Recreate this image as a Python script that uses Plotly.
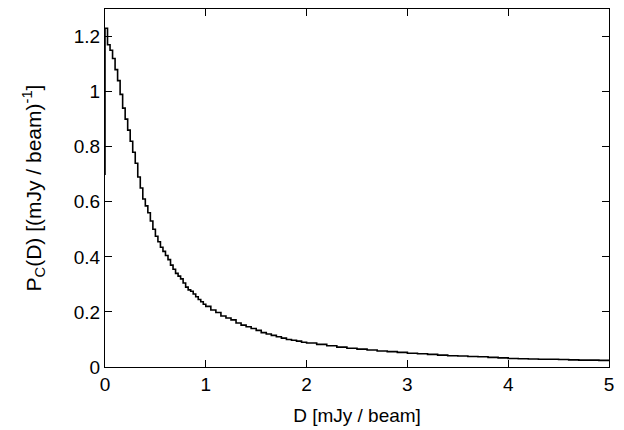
import plotly.graph_objects as go

# Bin left edges (D in mJy/beam) and histogram values P_C(D)
bin_left = [-0.02,
    0.000, 0.025, 0.050, 0.075, 0.100, 0.125, 0.150, 0.175, 0.200, 0.225,
    0.250, 0.275, 0.300, 0.325, 0.350, 0.375, 0.400, 0.425, 0.450, 0.475,
    0.500, 0.525, 0.550, 0.575, 0.600, 0.625, 0.650, 0.675, 0.700, 0.725,
    0.750, 0.775, 0.800, 0.825, 0.850, 0.875, 0.900, 0.925, 0.950, 0.975,
    1.00, 1.05, 1.10, 1.15, 1.20, 1.25, 1.30, 1.35, 1.40, 1.45,
    1.50, 1.55, 1.60, 1.65, 1.70, 1.75, 1.80, 1.85, 1.90, 1.95,
    2.0, 2.1, 2.2, 2.3, 2.4, 2.5, 2.6, 2.7, 2.8, 2.9,
    3.0, 3.1, 3.2, 3.3, 3.4, 3.5, 3.6, 3.7, 3.8, 3.9,
    4.0, 4.1, 4.2, 4.3, 4.4, 4.5, 4.6, 4.7, 4.8, 4.9, 5.0]
pc_values = [0.70,
    1.23, 1.17, 1.15, 1.12, 1.08, 1.04, 0.99, 0.94, 0.90, 0.86,
    0.82, 0.78, 0.74, 0.69, 0.65, 0.61, 0.585, 0.56, 0.53, 0.50,
    0.475, 0.455, 0.435, 0.42, 0.405, 0.39, 0.37, 0.355, 0.34, 0.33,
    0.32, 0.305, 0.29, 0.28, 0.275, 0.265, 0.255, 0.245, 0.237, 0.228,
    0.22, 0.207, 0.198, 0.185, 0.178, 0.171, 0.16, 0.152, 0.146, 0.14,
    0.133, 0.125, 0.12, 0.115, 0.11, 0.105, 0.10, 0.097, 0.094, 0.09,
    0.087, 0.082, 0.077, 0.072, 0.068, 0.065, 0.062, 0.058, 0.056, 0.053,
    0.050, 0.048, 0.046, 0.043, 0.041, 0.040, 0.038, 0.037, 0.035, 0.033,
    0.031, 0.030, 0.029, 0.028, 0.028, 0.027, 0.026, 0.025, 0.025, 0.024, 0.024]

x_ticks = [0, 1, 2, 3, 4, 5]
y_ticks = [0, 0.2, 0.4, 0.6, 0.8, 1.0, 1.2]

fig = go.Figure()
fig.add_trace(go.Scatter(x=bin_left, y=pc_values, mode="lines",
                         line=dict(color="black", width=1.6, shape="hv"),
                         showlegend=False, hoverinfo="skip"))

axis_common = dict(showline=True, linecolor="black", linewidth=1, mirror="ticks",
                   ticks="inside", ticklen=7, tickcolor="black", tickwidth=1,
                   showgrid=False, zeroline=False,
                   tickfont=dict(size=19, color="black"))

fig.update_layout(
    width=616, height=422,
    margin=dict(l=97, r=15, t=1, b=63),
    paper_bgcolor="white", plot_bgcolor="white",
    font=dict(family="Liberation Sans, Arial, sans-serif", size=19, color="black"),
    xaxis=dict(range=[0, 5], tickvals=x_ticks,
               title=dict(text="D [mJy / beam]", standoff=14, font=dict(size=19)),
               **axis_common),
    yaxis=dict(range=[0, 1.3], tickvals=y_ticks, ticklabelstandoff=0,
               title=dict(text="P<sub>C</sub>(D) [(mJy / beam)<sup>-1</sup>]",
                          standoff=26, font=dict(size=21)),
               **axis_common),
)

fig.write_html("out.html")
